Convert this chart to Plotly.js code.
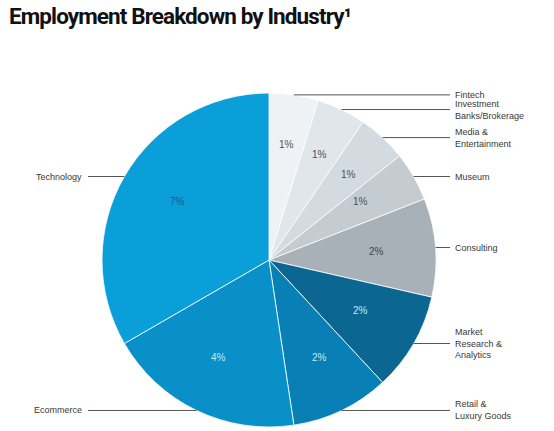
<!DOCTYPE html>
<html>
<head>
<meta charset="utf-8">
<script src="https://cdn.plot.ly/plotly-3.0.1.min.js"></script>
<style>
  html, body { margin: 0; padding: 0; background: #fff; }
  #chart { width: 554px; height: 431px; }
  #chart .gtitle { letter-spacing: -0.9px; }
</style>
</head>
<body>
<div id="chart"></div>
<script>
// data, clockwise from 12 o'clock
const industries = [
    "Fintech",
    "Investment<br>Banks/Brokerage",
    "Media &<br>Entertainment",
    "Museum",
    "Consulting",
    "Market<br>Research &<br>Analytics",
    "Retail &<br>Luxury Goods",
    "Ecommerce",
    "Technology"
];
const shares = [1, 1, 1, 1, 2, 2, 2, 4, 7];   // % of employment
const sliceColors = [
    "#eef2f5", "#e1e6ea", "#d3dae0", "#c4ccd2", "#a9b1b8",
    "#0b6792", "#0980b5", "#0a90c8", "#0a9fd9"
];
const valueColors = [
    "#4c5257", "#4c5257", "#4c5257", "#4c5257", "#3f4448",
    "#c3e9f8", "#c3e9f8", "#c3e9f8", "#165d80"
];

// page geometry (pixels)
const W = 554, H = 431;
const CX = 269, CY = 260, R = 167;
const LABEL_RIGHT_X = 453, LABEL_LEFT_X = 84;
const VALUE_RADIUS = 0.70;

const px = x => x / W;
const py = y => 1 - y / H;

const total = shares.reduce((a, b) => a + b, 0);

const shapes = [];
const annotations = [];
let acc = 0;
shares.forEach((v, i) => {
    const mid = (acc + v / 2) / total * 2 * Math.PI;
    acc += v;
    const sx = Math.sin(mid), cy = Math.cos(mid);

    // value label inside the slice
    annotations.push({
        x: px(CX + R * VALUE_RADIUS * sx),
        y: py(CY - R * VALUE_RADIUS * cy),
        xref: "paper", yref: "paper",
        text: v + "%",
        showarrow: false,
        font: { family: "Liberation Sans, Arial, sans-serif", size: 10, color: valueColors[i] }
    });

    // leader line + category label
    const ex = CX + R * sx, ey = CY - R * cy;
    const right = sx >= 0;
    shapes.push({
        type: "line", xref: "paper", yref: "paper",
        x0: px(ex), y0: py(ey),
        x1: px(right ? LABEL_RIGHT_X - 3 : LABEL_LEFT_X + 4), y1: py(ey),
        line: { color: "#555", width: 1 }
    });
    annotations.push({
        x: px(right ? LABEL_RIGHT_X : LABEL_LEFT_X),
        y: py(ey),
        xref: "paper", yref: "paper",
        xanchor: right ? "left" : "right",
        yanchor: "middle",
        align: "left",
        text: industries[i],
        showarrow: false,
        font: { family: "Liberation Sans, Arial, sans-serif", size: 9, color: "#383838" }
    });
});

const trace = {
    type: "pie",
    labels: industries,
    values: shares,
    sort: false,
    direction: "clockwise",
    rotation: 0,
    textinfo: "none",
    hoverinfo: "label+value",
    marker: { colors: sliceColors, line: { color: "#ffffff", width: 0.8 } },
    domain: { x: [px(CX - R), px(CX + R)], y: [py(CY + R), py(CY - R)] }
};

const layout = {
    width: W,
    height: H,
    margin: { t: 0, r: 0, b: 0, l: 0 },
    paper_bgcolor: "#ffffff",
    showlegend: false,
    title: {
        text: "Employment Breakdown by Industry¹",
        x: px(9), xanchor: "left",
        y: py(8), yanchor: "top",
        font: { family: "Roboto, Liberation Sans, sans-serif", weight: 700, size: 22.5, color: "#111111" }
    },
    shapes,
    annotations
};

Plotly.newPlot("chart", [trace], layout, { displayModeBar: false, staticPlot: true });
</script>
</body>
</html>
